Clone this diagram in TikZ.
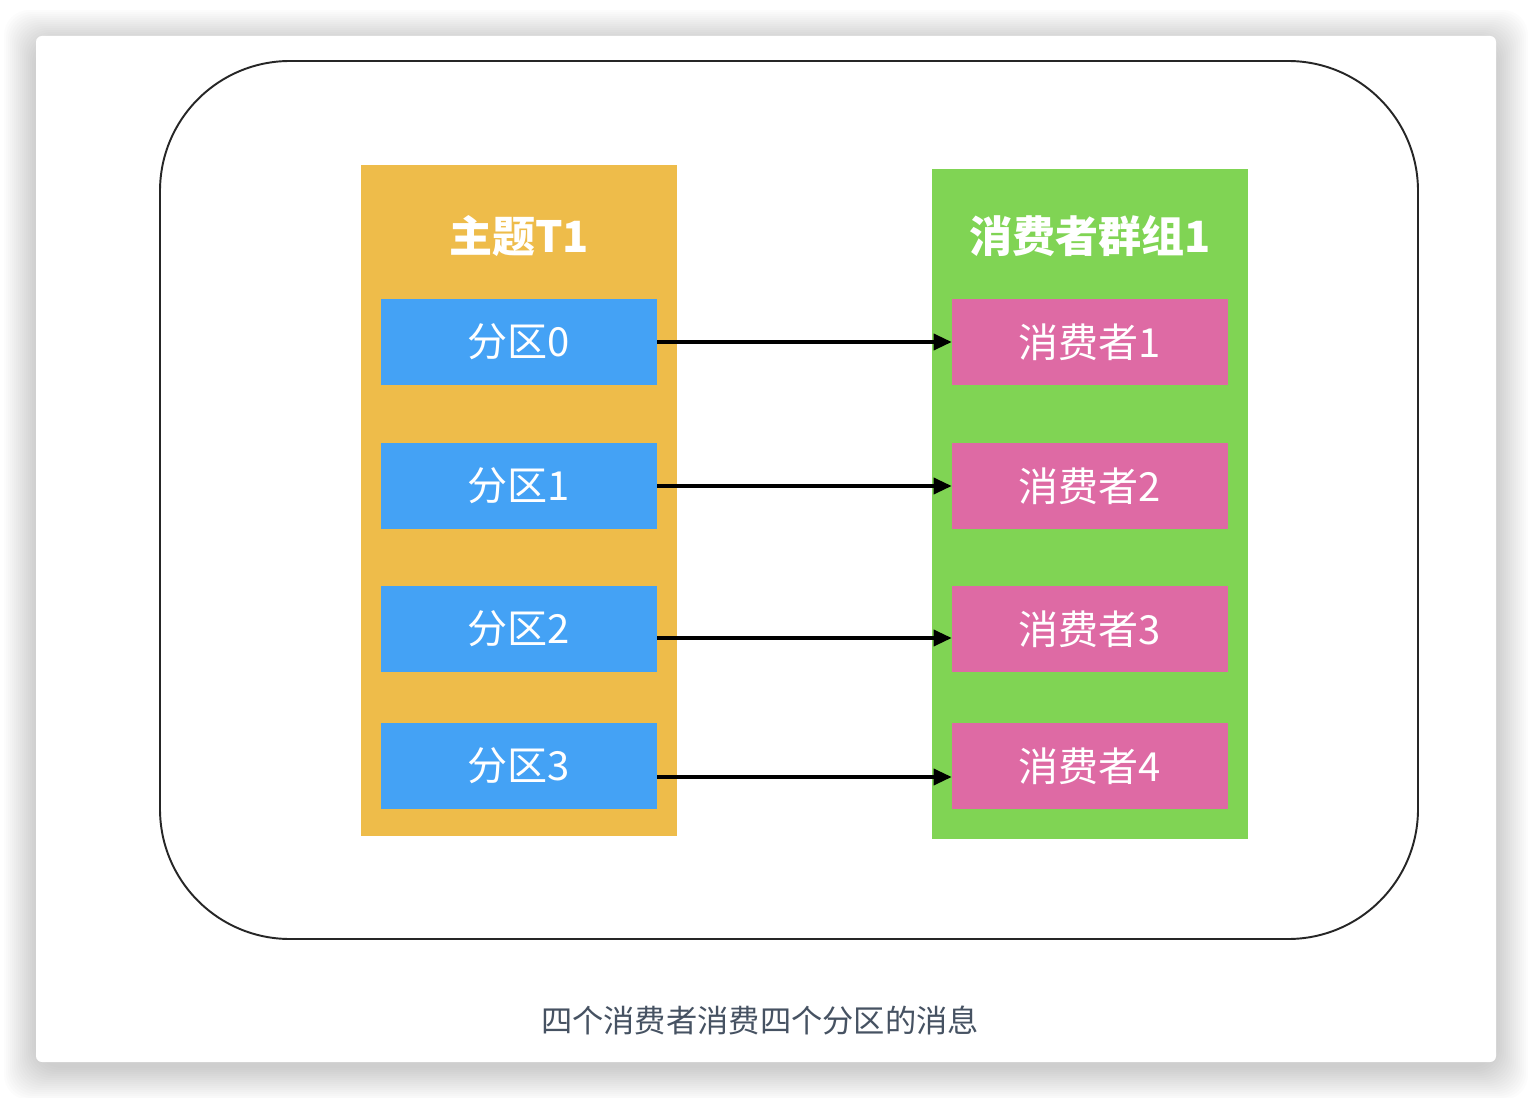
\documentclass[tikz,border=0pt]{standalone}
\usepackage{fontspec}
\newfontfamily\cjk{Noto Sans CJK SC}
\usetikzlibrary{arrows.meta, positioning}
\definecolor{topiccolor}{RGB}{238,188,74}
\definecolor{groupcolor}{RGB}{128,212,84}
\definecolor{partcolor}{RGB}{68,162,245}
\definecolor{consumercolor}{RGB}{222,106,164}
\definecolor{captioncolor}{RGB}{70,82,98}

\begin{document}
\begin{tikzpicture}[
    x=0.02cm, y=-0.02cm,
    container/.style={rectangle, minimum width=6.32cm, minimum height=13.42cm, inner sep=0pt},
    box/.style={rectangle, minimum width=5.52cm, minimum height=1.72cm, inner sep=0pt,
        text=white, font=\cjk\fontsize{22.8}{24}\selectfont},
    title/.style={text=white, font=\cjk\bfseries\fontsize{24.5}{26}\selectfont},
    link/.style={-{Triangle[length=0.36cm, width=0.32cm]}, line width=2pt}
]
\useasboundingbox (0,0) rectangle (1532,1098);
% card shadow
\foreach \s in {0,2,...,32}
    \fill[black, opacity=0.011, rounded corners=0.5cm] (36-\s,42-\s) rectangle (1496+\s,1068+\s);
\fill[white, rounded corners=0.12cm] (36,36) rectangle (1496,1062);

\draw[line width=1.1pt, black!85, rounded corners=2.6cm] (160,61) rectangle (1418,939);

\node[container, fill=topiccolor] (topic) at (519,500.5) {};
\node[container, fill=groupcolor] (group) at (1090,504) {};
\node[title] (topictitle) at (519,236) {主题T1};
\node[title] (grouptitle) at (1090,236) {消费者群组1};

\node[box, fill=partcolor] (p0) at (519,342) {分区0};
\node[box, fill=partcolor] (p1) at (519,486) {分区1};
\node[box, fill=partcolor] (p2) at (519,629) {分区2};
\node[box, fill=partcolor] (p3) at (519,766) {分区3};

\node[box, fill=consumercolor] (c1) at (1090,342) {消费者1};
\node[box, fill=consumercolor] (c2) at (1090,486) {消费者2};
\node[box, fill=consumercolor] (c3) at (1090,629) {消费者3};
\node[box, fill=consumercolor] (c4) at (1090,766) {消费者4};

\draw[link] (p0.east) -- (c1.west);
\draw[link] (p1.east) -- (c2.west);
\draw[link] ([yshift=-0.18cm]p2.east) -- ([yshift=-0.18cm]c3.west);
\draw[link] ([yshift=-0.22cm]p3.east) -- ([yshift=-0.22cm]c4.west);

\node[text=captioncolor, font=\cjk\fontsize{17.8}{19}\selectfont] (caption) at (760,1020) {四个消费者消费四个分区的消息};
\end{tikzpicture}
\end{document}
